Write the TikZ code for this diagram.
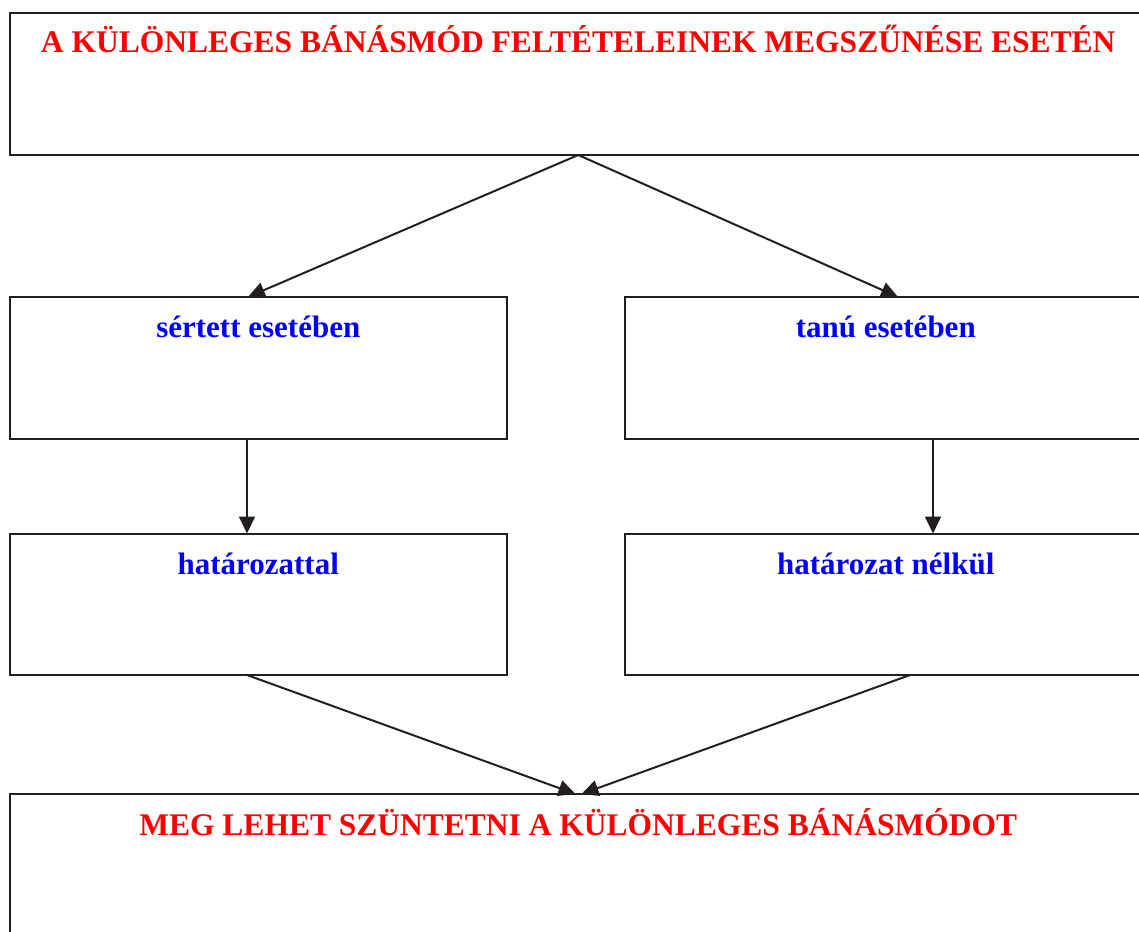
\documentclass[tikz,border=0pt]{standalone}
\usepackage{fontspec}
\setmainfont{Liberation Serif}
\usetikzlibrary{arrows.meta}
\definecolor{ink}{HTML}{231F20}
\definecolor{titlered}{HTML}{FF0000}
\definecolor{caseblue}{HTML}{0000FF}
\begin{document}
\begin{tikzpicture}[x=1pt,y=-1pt,
  box/.style={draw=ink, line width=2pt, fill=white, inner sep=0pt, outer sep=0pt, anchor=north west},
  redtxt/.style={text=titlered, font=\fontsize{31.5}{36}\selectfont\bfseries, anchor=base, inner sep=0pt},
  bluetxt/.style={text=caseblue, font=\fontsize{31}{36}\selectfont\bfseries, anchor=base, inner sep=0pt},
  arr/.style={draw=ink, line width=2pt, -{Triangle[length=17pt,width=16pt]}}]
\useasboundingbox (0,0) rectangle (1139,931);
% boxes
\node[box, minimum width=1137.5pt, minimum height=142pt] (top) at (9.5,13) {};
\node[box, minimum width=497.5pt, minimum height=141.5pt] (sl) at (9.5,297) {};
\node[box, minimum width=522.5pt, minimum height=141.5pt] (sr) at (624.5,297) {};
\node[box, minimum width=497.5pt, minimum height=141.5pt] (hl) at (9.5,533.5) {};
\node[box, minimum width=522.5pt, minimum height=141.5pt] (hr) at (624.5,533.5) {};
\node[box, minimum width=1137.5pt, minimum height=290pt] (bot) at (9.5,794) {};
% texts
\node[redtxt] (ttl) at ([yshift=-40pt]top.north) {A KÜLÖNLEGES BÁNÁSMÓD FELTÉTELEINEK MEGSZŰNÉSE ESETÉN};
\node[bluetxt] (tsl) at ([yshift=-40pt]sl.north) {sértett esetében};
\node[bluetxt] (tsr) at ([yshift=-40pt]sr.north) {tanú esetében};
\node[bluetxt] (thl) at ([yshift=-40.5pt]hl.north) {határozattal};
\node[bluetxt] (thr) at ([yshift=-40.5pt]hr.north) {határozat nélkül};
\node[redtxt] (tbot) at ([yshift=-41pt]bot.north) {MEG LEHET SZÜNTETNI A KÜLÖNLEGES BÁNÁSMÓDOT};
% connectors
\draw[arr] (top.south) -- ([xshift=238.5pt]sl.north west);
\draw[arr] (top.south) -- ([xshift=273.5pt]sr.north west);
\draw[arr] ([xshift=237.5pt]sl.south west) -- ([xshift=237.5pt]hl.north west);
\draw[arr] ([xshift=308.5pt]sr.south west) -- ([xshift=308.5pt]hr.north west);
\draw[arr] ([xshift=237.5pt]hl.south west) -- ([xshift=566pt]bot.north west);
\draw[arr] ([xshift=285.5pt]hr.south west) -- ([xshift=572pt]bot.north west);
\end{tikzpicture}
\end{document}
